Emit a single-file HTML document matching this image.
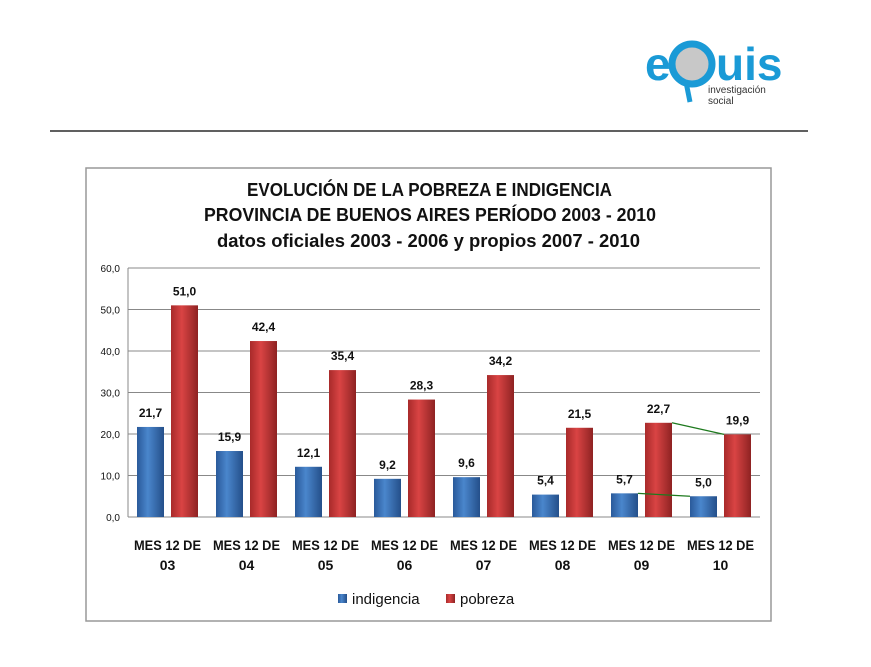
<!DOCTYPE html>
<html><head><meta charset="utf-8"><style>
body{margin:0;width:871px;height:662px;background:#fff;overflow:hidden;font-family:"Liberation Sans",sans-serif}
</style></head><body>
<svg width="871" height="662" xmlns="http://www.w3.org/2000/svg">
<defs>
<linearGradient id="gb" x1="0" x2="1"><stop offset="0" stop-color="#2a5a9a"/><stop offset="0.4" stop-color="#4a86cc"/><stop offset="1" stop-color="#244f8a"/></linearGradient>
<linearGradient id="gr" x1="0" x2="1"><stop offset="0" stop-color="#a82a2a"/><stop offset="0.4" stop-color="#d94444"/><stop offset="1" stop-color="#8e2222"/></linearGradient>
</defs>
<g>
<text x="645" y="80" font-size="46" font-weight="bold" fill="#1a9ad6" letter-spacing="-1">e</text>
<circle cx="692" cy="64" r="20" fill="#c8c8c8" stroke="#1a9ad6" stroke-width="7"/>
<path d="M686 82 L690 102" stroke="#1a9ad6" stroke-width="5"/>
<text x="716" y="80" font-size="46" font-weight="bold" fill="#1a9ad6">uis</text>
<text x="708" y="93" font-size="10" fill="#333">investigación</text>
<text x="708" y="104" font-size="10" fill="#333">social</text>
</g>
<line x1="50" y1="131" x2="808" y2="131" stroke="#000" stroke-width="1.2"/>
<rect x="86" y="168" width="685" height="453" fill="#fff" stroke="#999" stroke-width="1.5"/>
<g font-weight="bold" font-size="18" fill="#111">
<text x="247" y="196" textLength="365" lengthAdjust="spacingAndGlyphs">EVOLUCIÓN DE LA POBREZA E INDIGENCIA</text>
<text x="204" y="221" textLength="452" lengthAdjust="spacingAndGlyphs">PROVINCIA DE BUENOS AIRES PERÍODO 2003 - 2010</text>
<text x="217" y="247" textLength="423" lengthAdjust="spacingAndGlyphs">datos oficiales 2003 - 2006 y propios 2007 - 2010</text>
</g>
<g id="chart"></g>
<g>
<rect x="338" y="594" width="9" height="9" fill="url(#gb)"/><text x="352" y="604" font-size="15" fill="#111">indigencia</text>
<rect x="446" y="594" width="9" height="9" fill="url(#gr)"/><text x="460" y="604" font-size="15" fill="#111">pobreza</text>
</g>
</svg>
<script>
const categories=["03","04","05","06","07","08","09","10"];
const indigencia=[21.7,15.9,12.1,9.2,9.6,5.4,5.7,5.0];
const pobreza=[51.0,42.4,35.4,28.3,34.2,21.5,22.7,19.9];
const ticks=[0,10,20,30,40,50,60];
const NS="http://www.w3.org/2000/svg";
const g=document.getElementById('chart');
const L=128,R=760,Y0=517,Y60=268;
const y=v=>Y0-(v/60)*(Y0-Y60);
const gw=(R-L)/categories.length;
const fmt=v=>v.toFixed(1).replace('.',',');
function mk(t,a,txt){const e=document.createElementNS(NS,t);for(const k in a)e.setAttribute(k,a[k]);if(txt!==undefined)e.textContent=txt;g.appendChild(e);return e;}
ticks.forEach(t=>{
 const l=mk('line',{x1:L,x2:R,y1:y(t),y2:y(t),stroke:'#888','stroke-width':1});
 
 
 const tx=mk('text',{x:L-8,y:y(t)+4,'font-size':10,'text-anchor':'end',fill:'#111'},fmt(t));
 
 
});
mk('line',{x1:L,x2:L,y1:Y60,y2:Y0,stroke:'#888'});
const bw=27;
function bar(i,v,fill,off,name){
 const cx=L+gw*i+gw/2+off;
 const r=mk('rect',{x:cx-bw/2,y:y(v),width:bw,height:Y0-y(v),fill:fill});
 
 
 const t=mk('text',{x:cx,y:y(v)-10,'font-size':12,'font-weight':'bold','text-anchor':'middle',fill:'#111'},fmt(v));
 
 
 return cx;
}
categories.forEach((c,i)=>{
 bar(i,indigencia[i],'url(#gb)',-17,'bar-indigencia-'+c);
 bar(i,pobreza[i],'url(#gr)',17,'bar-pobreza-'+c);
 const cx=L+gw*i+gw/2;
 const t1=mk('text',{x:cx-33.5,y:550,'font-size':14,'font-weight':'bold',textLength:67,lengthAdjust:'spacingAndGlyphs',fill:'#111'},'MES 12 DE');
 
 
 const t2=mk('text',{x:cx,y:570,'font-size':14,'font-weight':'bold','text-anchor':'middle',fill:'#111'},c);
 
 
});
const a=6,b=7;
const l1=mk('line',{x1:L+gw*a+gw/2+17+bw/2,y1:y(pobreza[a]),x2:L+gw*b+gw/2+17-bw/2,y2:y(pobreza[b]),stroke:'#1e7a1e','stroke-width':1.3});


const l2=mk('line',{x1:L+gw*a+gw/2-17+bw/2,y1:y(indigencia[a]),x2:L+gw*b+gw/2-17-bw/2,y2:y(indigencia[b]),stroke:'#1e7a1e','stroke-width':1.3});


</script>
</body></html>
